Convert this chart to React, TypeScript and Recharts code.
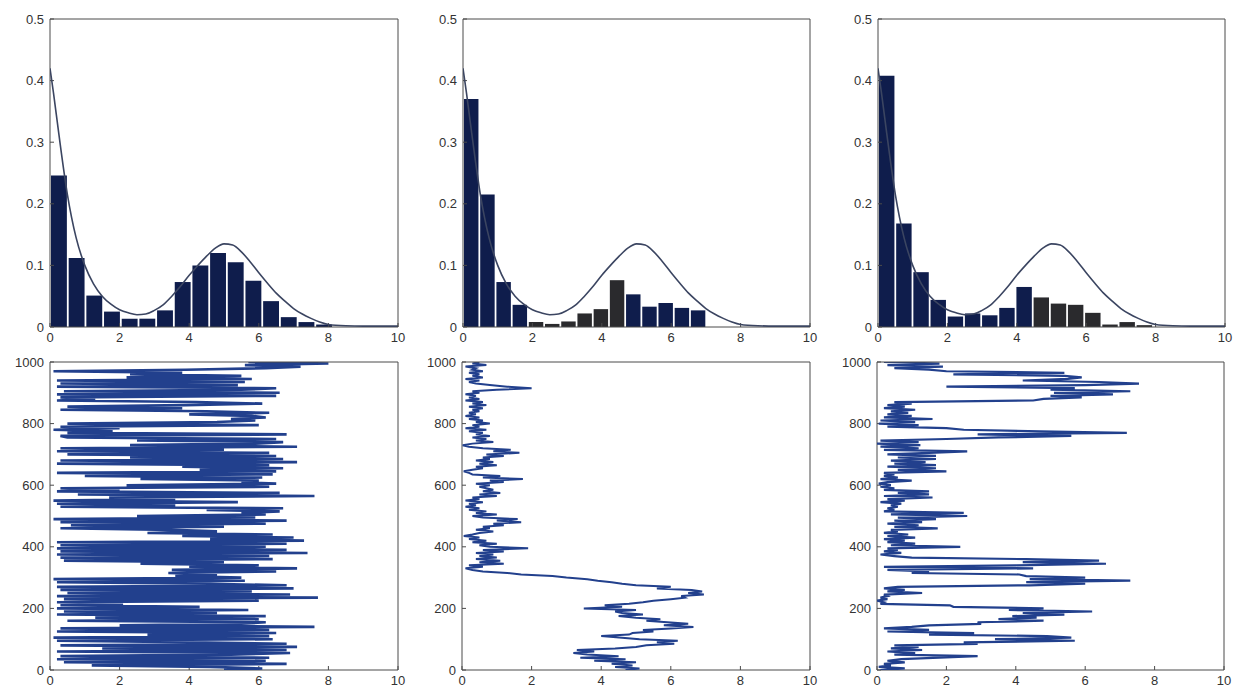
import React from 'react';
import { BarChart, Bar, Cell, LineChart, Line, ScatterChart, Scatter, XAxis, YAxis } from 'recharts';

// x ticks shared by all six panels
const xTicks = [0, 2, 4, 6, 8, 10];
const densityTicks = [0, 0.1, 0.2, 0.3, 0.4, 0.5];
const iterTicks = [0, 200, 400, 600, 800, 1000];

// target density drawn over each histogram
const curveX = [0, 0.1, 0.25, 0.5, 0.75, 1, 1.25, 1.5, 1.75, 2, 2.25, 2.5, 2.75, 3, 3.25, 3.5, 3.75, 4, 4.25, 4.5, 4.75, 5, 5.25, 5.5, 5.75, 6, 6.25, 6.5, 6.75, 7, 7.25, 7.5, 7.75, 8, 8.5, 9, 10];
const curveY = [0.42, 0.38, 0.315, 0.215, 0.145, 0.1, 0.07, 0.05, 0.037, 0.028, 0.023, 0.02, 0.021, 0.027, 0.036, 0.05, 0.066, 0.084, 0.1, 0.115, 0.128, 0.135, 0.133, 0.122, 0.106, 0.088, 0.071, 0.055, 0.042, 0.03, 0.021, 0.014, 0.008, 0.004, 0.002, 0.0015, 0.0015];

// histogram heights, bins start at 0
const hist1 = [0.246, 0.112, 0.051, 0.025, 0.0135, 0.0135, 0.027, 0.073, 0.1, 0.12, 0.105, 0.075, 0.042, 0.016, 0.008, 0.004];
const hist2 = [0.37, 0.215, 0.073, 0.036, 0.008, 0.005, 0.009, 0.022, 0.029, 0.076, 0.053, 0.033, 0.039, 0.031, 0.027];
const hist3 = [0.408, 0.168, 0.089, 0.044, 0.017, 0.022, 0.019, 0.031, 0.065, 0.048, 0.038, 0.036, 0.023, 0.004, 0.008, 0.003];
const binWidth1 = 0.508;
const binWidth2 = 0.467;
const binWidth3 = 0.495;
// bins printed dark gray instead of navy
const gray1: number[] = [];
const gray2 = [4, 5, 6, 7, 8, 9];
const gray3 = [9, 10, 11, 12, 13, 14, 15];

// sampler traces, one value every 5 iterations (0..1000)
const trace1 = [
  5.0, 6.1, 4.6, 1.2, 6.8, 0.4, 6.2, 0.2, 6.3, 0.3,
  5.2, 6.9, 0.2, 6.8, 1.5, 7.1, 0.3, 6.8, 4.0, 0.2,
  6.4, 0.1, 6.3, 2.8, 6.5, 0.2, 6.3, 0.3, 7.6, 2.0,
  5.5, 6.2, 0.5, 6.0, 1.3, 6.2, 0.2, 4.8, 0.4, 5.7,
  0.2, 4.3, 0.3, 2.1, 0.2, 6.0, 0.4, 7.7, 0.2, 6.9,
  0.5, 5.8, 0.3, 7.0, 0.2, 6.8, 4.6, 0.2, 5.6, 0.1,
  5.5, 3.6, 4.8, 3.4, 6.5, 3.5, 7.1, 4.0, 6.0, 2.6,
  5.0, 0.4, 6.4, 0.3, 6.3, 0.2, 7.4, 0.3, 6.8, 0.2,
  6.2, 0.3, 6.8, 0.2, 7.3, 4.6, 7.0, 3.8, 6.4, 2.8,
  4.8, 3.5, 0.3, 5.0, 0.6, 6.2, 0.3, 6.8, 0.1, 5.9,
  2.5, 6.2, 5.5, 6.6, 4.5, 6.7, 0.3, 3.6, 0.2, 5.4,
  0.1, 3.6, 1.7, 7.6, 0.8, 6.6, 0.2, 2.0, 0.3, 6.3,
  2.2, 6.5, 5.5, 6.0, 2.6, 6.1, 1.0, 6.4, 0.2, 6.5,
  4.3, 6.7, 3.8, 6.3, 0.2, 7.1, 0.3, 6.7, 2.3, 6.5,
  0.5, 6.3, 0.2, 5.0, 0.3, 7.1, 2.3, 5.9, 6.7, 2.5,
  6.5, 0.5, 0.3, 6.8, 0.5, 1.8, 0.1, 2.0, 0.3, 6.0,
  0.5, 4.8, 5.9, 5.2, 6.2, 5.8, 4.0, 6.3, 4.5, 0.3,
  3.8, 0.5, 3.9, 6.1, 4.2, 0.2, 1.3, 0.3, 6.5, 0.2,
  6.6, 0.4, 5.5, 6.5, 0.2, 5.4, 0.3, 5.6, 0.2, 5.8,
  2.2, 5.5, 2.3, 3.8, 0.1, 3.9, 6.2, 7.2, 5.6, 8.0,
  5.7,
];
const trace2 = [
  4.7, 5.1, 4.4, 4.9, 4.3, 5.0, 3.8, 4.7, 3.4, 4.5,
  3.6, 3.2, 3.8, 3.3, 4.4, 5.0, 5.3, 6.1, 5.6, 6.2,
  5.1, 4.6, 4.0, 4.8, 4.9, 5.5, 5.2, 6.0, 6.65, 5.8,
  6.5, 5.9, 5.3, 5.7, 5.0, 4.5, 5.2, 4.6, 4.4, 5.0,
  3.5, 4.6, 4.1, 4.8, 5.2, 5.5, 6.0, 6.4, 6.3, 6.95,
  6.5, 6.9, 6.6, 5.6, 6.0, 5.0, 4.6, 4.3, 3.9, 3.6,
  3.0, 2.6, 1.7, 1.3, 0.6, 0.3, 0.1, 0.6, 0.2, 1.2,
  0.5, 1.1, 0.4, 1.0, 0.5, 0.9, 0.4, 1.2, 0.6, 1.9,
  0.8, 0.5, 1.0, 0.3, 0.7, 0.2, 0.5, 0.05, 0.3, 0.5,
  0.9, 0.4, 0.8, 0.6, 1.2, 0.9, 1.7, 1.0, 1.6, 0.6,
  0.3, 1.0, 0.4, 0.7, 0.2, 0.5, 0.1, 0.4, 0.2, 0.6,
  0.1, 0.5, 0.3, 1.0, 0.5, 1.1, 0.6, 0.9, 0.7, 0.5,
  0.8, 0.4, 1.2, 0.8, 1.75, 0.6, 1.1, 0.3, 0.2, 0.05,
  0.3, 0.6, 0.4, 1.0, 0.5, 0.9, 0.4, 0.8, 0.6, 1.2,
  0.7, 1.65, 0.9, 1.4, 0.6, 0.2, 0.02, 0.3, 0.9, 0.4,
  0.7, 0.3, 0.8, 0.4, 0.6, 0.2, 0.7, 0.1, 0.5, 0.3,
  0.8, 0.4, 0.6, 0.2, 0.5, 0.1, 0.4, 0.2, 0.5, 0.3,
  0.6, 0.2, 0.7, 0.3, 0.6, 0.1, 0.5, 0.2, 0.4, 0.1,
  0.5, 0.3, 1.0, 2.0, 1.3, 0.8, 0.4, 0.2, 0.5, 0.1,
  0.6, 0.3, 0.5, 0.2, 0.6, 0.3, 0.4, 0.1, 0.7, 0.3,
  0.5,
];
const trace3 = [
  0.1, 0.8, 0.05, 0.4, 0.2, 0.8, 0.3, 0.7, 1.8, 2.9,
  0.5, 1.1, 0.3, 1.3, 0.4, 1.2, 0.5, 2.9, 2.5, 5.7,
  3.4, 5.6, 4.9, 1.5, 2.8, 0.3, 1.5, 0.2, 1.0, 1.5,
  3.0, 2.9, 4.8, 3.5, 4.6, 3.9, 5.4, 4.2, 6.2, 3.8,
  4.8, 2.2, 2.1, 0.1, 0.2, 0.0, 0.3, 0.1, 0.3, 0.2,
  1.3, 0.3, 0.8, 0.2, 0.6, 4.4, 6.0, 4.3, 7.3, 4.4,
  6.0, 4.3, 4.1, 1.0, 1.5, 0.3, 4.5, 0.2, 4.0, 6.6,
  4.2, 6.4, 4.3, 1.0, 0.5, 0.1, 0.7, 0.2, 0.6, 0.3,
  2.4, 0.4, 1.1, 0.3, 0.8, 0.2, 1.1, 0.3, 0.9, 0.2,
  0.6, 0.4, 1.75, 0.5, 1.2, 0.3, 1.3, 0.5, 1.7, 0.6,
  2.6, 0.4, 2.5, 0.2, 0.5, 0.3, 0.6, 0.4, 0.7, 0.1,
  0.8, 0.3, 1.6, 0.2, 1.5, 0.6, 1.5, 0.2, 0.5, 0.1,
  0.4, 0.05, 0.3, 1.0, 0.1, 0.6, 0.2, 0.5, 0.2, 2.0,
  0.6, 1.7, 0.3, 1.7, 0.5, 1.4, 0.4, 1.7, 0.6, 1.7,
  0.3, 1.5, 2.6, 0.2, 1.2, 0.1, 1.25, 0.0, 1.2, 0.1,
  2.0, 3.5, 5.6, 2.9, 7.2, 4.7, 2.5, 2.0, 0.3, 1.2,
  0.05, 1.1, 0.1, 1.6, 0.2, 1.0, 0.3, 0.9, 0.4, 1.1,
  0.2, 0.8, 0.3, 1.0, 0.5, 4.5, 4.8, 5.9, 5.0, 6.8,
  5.1, 7.3, 5.0, 5.7, 2.0, 6.0, 7.55, 6.4, 4.2, 5.5,
  5.9, 5.4, 2.2, 5.4, 2.0, 1.5, 0.5, 1.9, 0.3, 1.8,
  0.2,
];

const NAVY = '#0f1d4c';
const GRAY = '#2a2a2d';
const CURVE = '#3b4561';
const TRACE = '#22408d';
const AXIS = '#4a4a4a';
const FONT = '"Liberation Sans", Arial, sans-serif';
const tickStyle = { fontSize: 13, fill: '#333', fontFamily: FONT };
const PLOT_W = 348; // px for 10 x units
const ROW_H = 345;

// left + bottom axes with labels, ticks pointing into the box
const mainAxes = (yDomain: number[], yTicks: number[], yKey?: string) => [
  <XAxis key="xb" type="number" dataKey="x" domain={[0, 10]} ticks={xTicks} allowDataOverflow height={16}
    tickSize={-4} tickMargin={10} tick={tickStyle} stroke={AXIS} />,
  <YAxis key="yl" type="number" dataKey={yKey} domain={yDomain} ticks={yTicks} allowDataOverflow width={50}
    tickSize={-4} tickMargin={10} tick={tickStyle} stroke={AXIS} />,
];

// top + right axes that close the box (1px tall/wide so they get drawn)
const boxAxes = (yDomain: number[], yTicks: number[], yKey?: string) => [
  <XAxis key="xt" xAxisId="top" orientation="top" type="number" dataKey="x" domain={[0, 10]} ticks={xTicks}
    allowDataOverflow height={1} tick={false} tickSize={-4} stroke={AXIS} />,
  <YAxis key="yr" yAxisId="right" orientation="right" type="number" dataKey={yKey} domain={yDomain} ticks={yTicks}
    allowDataOverflow width={1} tick={false} tickSize={-4} stroke={AXIS} />,
];

type HistProps = { left: number; width: number; right: number; heights: number[]; binWidth: number; gray: number[] };

const HistPanel: React.FC<HistProps> = ({ left, width, right, heights, binWidth, gray }) => {
  const bars = heights.map((h, i) => ({ x: +(binWidth * (i + 0.5)).toFixed(4), h }));
  const curve = curveX.map((x, i) => ({ x, d: curveY[i] }));
  const barPx = (binWidth * PLOT_W) / 10 - 1.8;
  return (
    <div style={{ position: 'absolute', left, top: 0, width, height: ROW_H }}>
      <div style={{ position: 'absolute', left: 0, top: 0 }}>
        <BarChart width={width} height={ROW_H} data={bars} margin={{ top: 19, right, bottom: 2, left: 0 }}>
          {mainAxes([0, 0.5], densityTicks)}
          <Bar dataKey="h" barSize={barPx} isAnimationActive={false}>
            {bars.map((b, i) => (
              <Cell key={`bin-${i}`} fill={gray.includes(i) ? GRAY : NAVY} />
            ))}
          </Bar>
        </BarChart>
      </div>
      <div style={{ position: 'absolute', left: 0, top: 0 }}>
        {/* curve layer owns the top/right box axes */}
        <LineChart width={width} height={ROW_H} data={curve} margin={{ top: 18, right: right - 1, bottom: 18, left: 50 }}>
          {boxAxes([0, 0.5], densityTicks)}
          <Line xAxisId="top" yAxisId="right" dataKey="d" type="monotone" stroke={CURVE} strokeWidth={1.6}
            dot={false} isAnimationActive={false} />
        </LineChart>
      </div>
    </div>
  );
};

type TraceProps = { left: number; width: number; right: number; values: number[]; lineW: number };

const TracePanel: React.FC<TraceProps> = ({ left, width, right, values, lineW }) => {
  const pts = values.map((x, i) => ({ x, t: (i * 1000) / (values.length - 1) }));
  return (
    <div style={{ position: 'absolute', left, top: ROW_H, width, height: ROW_H }}>
      <div style={{ position: 'absolute', left: 0, top: 0 }}>
        <ScatterChart width={width} height={ROW_H} margin={{ top: 17, right, bottom: 4, left: 0 }}>
          {mainAxes([0, 1000], iterTicks, 't')}
          <Scatter data={pts} line={{ stroke: TRACE, strokeWidth: lineW }} shape={() => <g />}
            isAnimationActive={false} />
        </ScatterChart>
      </div>
      <div style={{ position: 'absolute', left: 0, top: 0 }}>
        <ScatterChart width={width} height={ROW_H} margin={{ top: 16, right: right - 1, bottom: 20, left: 50 }}>
          {boxAxes([0, 1000], iterTicks, 't')}
          <Scatter xAxisId="top" yAxisId="right" data={pts} shape={() => <g />} isAnimationActive={false} />
        </ScatterChart>
      </div>
    </div>
  );
};

export default function App() {
  return (
    <div style={{ position: 'absolute', left: 0, top: 0, width: 1233, height: 693, background: '#fff', overflow: 'hidden' }}>
      <HistPanel left={0} width={410} right={12} heights={hist1} binWidth={binWidth1} gray={gray1} />
      <HistPanel left={413} width={410} right={13} heights={hist2} binWidth={binWidth2} gray={gray2} />
      <HistPanel left={828} width={405} right={8} heights={hist3} binWidth={binWidth3} gray={gray3} />
      <TracePanel left={0} width={410} right={12} values={trace1} lineW={2.6} />
      <TracePanel left={412} width={410} right={12} values={trace2} lineW={2} />
      <TracePanel left={827} width={405} right={8} values={trace3} lineW={2.2} />
    </div>
  );
}
